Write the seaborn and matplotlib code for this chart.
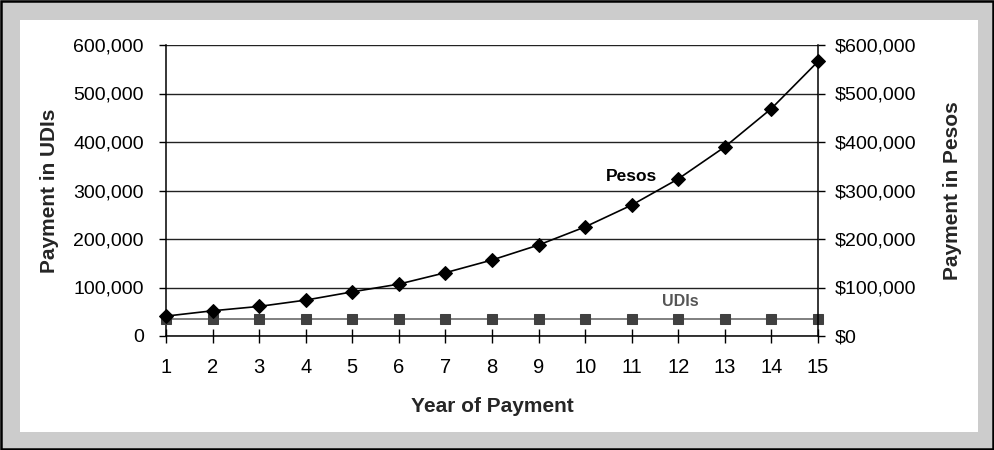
import matplotlib
matplotlib.use("Agg")
import matplotlib.pyplot as plt
from matplotlib.patches import Rectangle
from matplotlib.ticker import FuncFormatter, FixedLocator
import seaborn as sns
import pandas as pd

# Yearly payments over a 15-year schedule
years = list(range(1, 16))
pesos = [41000, 52000, 61000, 74000, 91000, 107000, 130500, 156700, 187600,
         225000, 270000, 324000, 390000, 469000, 566000]
udis = [35000] * 15

y_ticks = [0, 100000, 200000, 300000, 400000, 500000, 600000]

sns.set_theme(style="white")
plt.rcParams["font.family"] = ["Liberation Sans", "DejaVu Sans"]

df = pd.DataFrame({"year": years, "pesos": pesos, "udis": udis})

fig = plt.figure(figsize=(9.95, 4.5), dpi=100)
fig.patch.set_facecolor("#cccccc")

# white inner panel and outer black border
fig.patches.append(Rectangle((20 / 995, 18 / 450), 958 / 995, 412 / 450,
                             transform=fig.transFigure, facecolor="white",
                             edgecolor="none", zorder=-5))
fig.patches.append(Rectangle((0.001, 0.002), 0.997, 0.995,
                             transform=fig.transFigure, facecolor="none",
                             edgecolor="black", linewidth=1.8, zorder=10))

ax = fig.add_axes([166 / 995, 114 / 450, 652 / 995, 291 / 450])
ax.set_facecolor("none")
ax2 = ax.twinx()
ax.set_zorder(2)
ax2.set_zorder(3)
ax2.set_facecolor("none")

sns.lineplot(data=df, x="year", y="udis", ax=ax, color="#7f7f7f",
             linewidth=1.4, marker="s", markersize=7.5,
             markerfacecolor="#404040", markeredgecolor="#404040", zorder=3,
             clip_on=False)
sns.lineplot(data=df, x="year", y="pesos", ax=ax2, color="black",
             linewidth=1.2, marker="D", markersize=6.8,
             markerfacecolor="black", markeredgecolor="black", zorder=4,
             clip_on=False)

for a in (ax, ax2):
    a.set_xlim(1, 15)
    a.set_ylim(0, 600000)
    a.yaxis.set_major_locator(FixedLocator(y_ticks))
    for s in a.spines.values():
        s.set_visible(False)

ax.set_xticks(years)
ax.set_xticklabels([str(y) for y in years])
ax.yaxis.set_major_formatter(FuncFormatter(lambda v, p: f"{int(v):,}"))
ax2.yaxis.set_major_formatter(FuncFormatter(lambda v, p: f"${int(v):,}"))

for v in y_ticks:
    ax.axhline(v, color="#222222", linewidth=1.0, zorder=1)

ax.spines["left"].set_visible(True)
ax.spines["bottom"].set_visible(True)
ax2.spines["right"].set_visible(True)
for s in (ax.spines["left"], ax.spines["bottom"], ax2.spines["right"]):
    s.set_color("black")
    s.set_linewidth(1.1)
    s.set_zorder(2)

ax.tick_params(axis="y", direction="out", length=5, width=1, color="black",
               labelsize=14, labelcolor="black", pad=11, left=True)
ax.tick_params(axis="x", direction="inout", length=10, width=1, color="black",
               labelsize=14.5, labelcolor="black", pad=11, bottom=True)
ax2.tick_params(axis="y", direction="out", length=5, width=1, color="black",
                labelsize=14, labelcolor="black", pad=7, right=True)

ax.set_xlabel("Year of Payment", fontsize=15, fontweight="bold", labelpad=14)
ax.set_ylabel("Payment in UDIs", fontsize=15, fontweight="bold", labelpad=10)
ax2.set_ylabel("Payment in Pesos", fontsize=15, fontweight="bold",
               rotation=90, labelpad=19)

ax2.text(11.0, 328000, "Pesos", fontsize=12.5, fontweight="bold",
         ha="center", va="center", color="black")
ax2.text(12.05, 72000, "UDIs", fontsize=11.5, fontweight="bold",
         ha="center", va="center", color="#555555")

fig.savefig("out.png", dpi=100, facecolor=fig.get_facecolor())
